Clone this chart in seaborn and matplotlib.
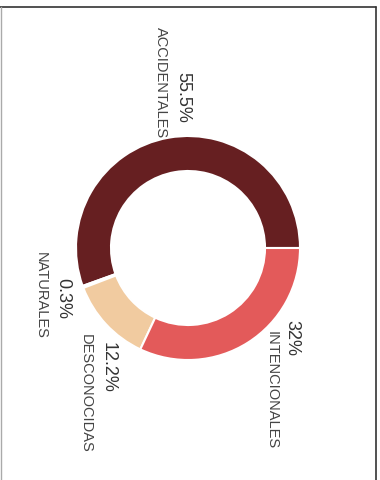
import matplotlib
matplotlib.use("Agg")
import matplotlib.pyplot as plt
from matplotlib.lines import Line2D
import seaborn as sns

# Share of deaths by cause
categories = ["ACCIDENTALES", "NATURALES", "DESCONOCIDAS", "INTENCIONALES"]
shares = [55.5, 0.3, 12.2, 32.0]
pct_labels = ["55.5%", "0.3%", "12.2%", "32%"]
colors = ["#661f21", "#f6e6d6", "#f1cba0", "#e35a5a"]

sns.set_theme(style="white")
plt.rcParams["font.family"] = ["Liberation Sans", "DejaVu Sans"]

W, H = 380, 480
fig = plt.figure(figsize=(W / 100, H / 100), dpi=100)
fig.patch.set_facecolor("white")
ax = fig.add_axes([0, 0, 1, 1])

# ring geometry in pixels
cx, cy, r_out, r_in = 188, 248, 112, 77

ax.pie(shares, colors=colors, startangle=0, counterclock=True,
       radius=1.0,
       wedgeprops=dict(width=(r_out - r_in) / r_out, edgecolor="white",
                       linewidth=1.5))

ax.set_xlim(-cx / r_out, (W - cx) / r_out)
ax.set_ylim(-(H - cy) / r_out, cy / r_out)
ax.set_aspect("auto")
ax.axis("off")


def px(x, y):
    return (x - cx) / r_out, (cy - y) / r_out


# label centres (pixels): percentage line, then category line
pct_pos = [(182.5, 97.5), (62.5, 298.5), (108.5, 367.5), (291.5, 338)]
name_pos = [(160.5, 82.5), (41, 295), (85.5, 393.5), (271.5, 390)]

for cat, pl, pp, npos in zip(categories, pct_labels, pct_pos, name_pos):
    ax.text(*px(*pp), pl, rotation=-90, ha="center", va="center",
            fontsize=13, color="#333333")
    ax.text(*px(*npos), cat, rotation=-90, ha="center", va="center",
            fontsize=10.5, color="#444444")

# frame lines around the panel
def fx(x):
    return x / W


def fy(y):
    return 1 - y / H


fig.add_artist(Line2D([fx(0), fx(375.5)], [fy(6.5), fy(6.5)],
                      color="#333333", linewidth=1.2))
fig.add_artist(Line2D([fx(375.5), fx(375.5)], [fy(6.5), fy(480)],
                      color="#333333", linewidth=1.2))
fig.add_artist(Line2D([fx(0.7), fx(0.7)], [fy(6.5), fy(480)],
                      color="#aaaaaa", linewidth=1.0))

fig.savefig("out.png", dpi=100, facecolor="white")
